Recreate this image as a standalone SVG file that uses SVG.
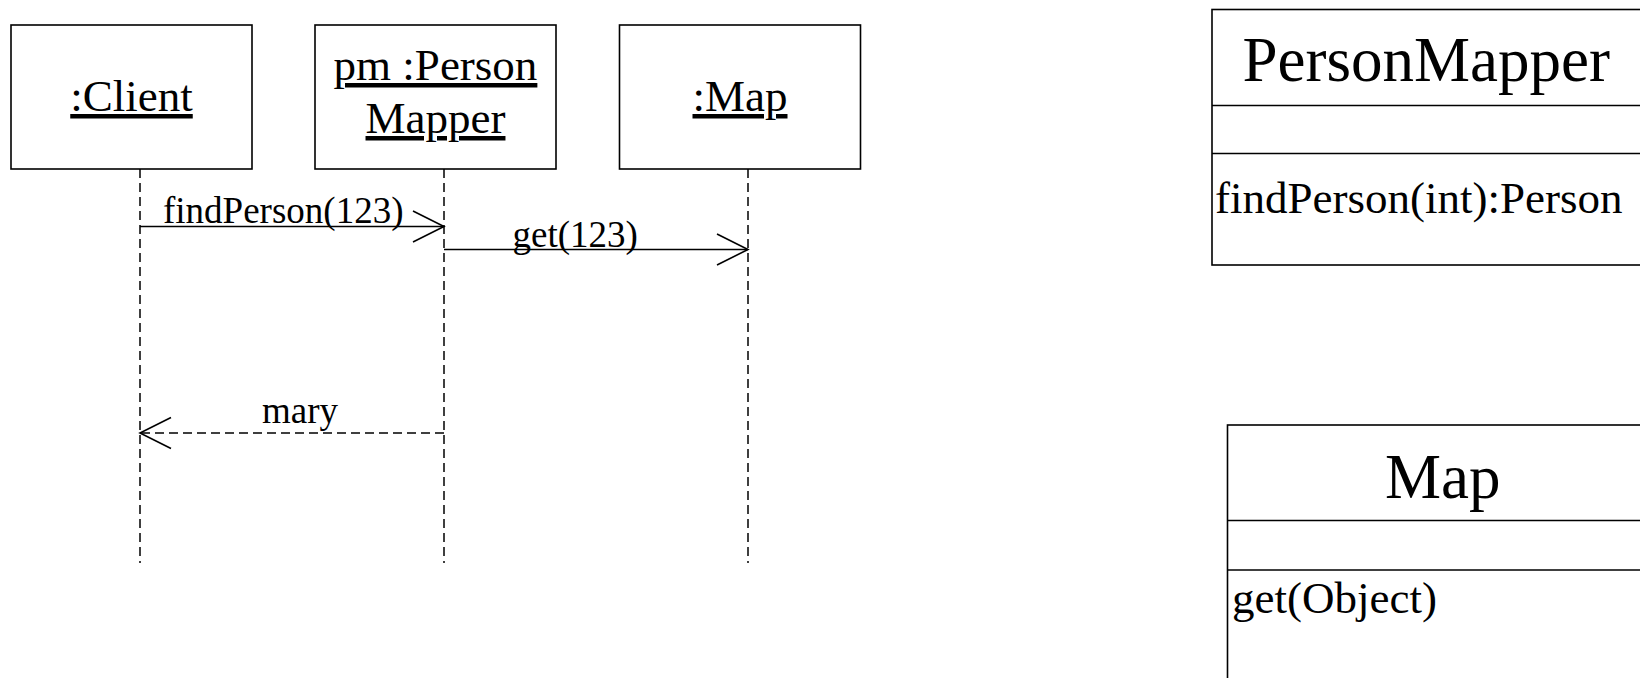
<svg xmlns="http://www.w3.org/2000/svg" width="1640" height="678" viewBox="0 0 1640 678">
  <style>
    text { font-family: "Liberation Serif", "Times New Roman", serif; fill: #000; }
    .box { fill: #fff; stroke: #000; stroke-width: 1.6; }
    .obj { font-size: 45px; text-anchor: middle; text-decoration: underline; }
    .msg { font-size: 37px; }
    .cls { font-size: 63px; }
    .op { font-size: 45px; }
    .life { stroke: #000; stroke-width: 1.5; stroke-dasharray: 9 5; fill: none; }
    .call { stroke: #000; stroke-width: 1.5; fill: none; }
    .ret { stroke: #000; stroke-width: 1.5; stroke-dasharray: 9 5; fill: none; }
    .head { stroke: #000; stroke-width: 1.6; fill: none; }
    .div { stroke: #000; stroke-width: 1.6; }
  </style>

  <g id="connectors">
    <line class="life" x1="140" y1="169" x2="140" y2="563"/>
    <line class="life" x1="444" y1="169" x2="444" y2="563"/>
    <line class="life" x1="748" y1="169" x2="748" y2="563"/>

    <g id="msg-findPerson">
      <line class="call" x1="140" y1="226.5" x2="444" y2="226.5"/>
      <polyline class="head" points="413,211 444,226.5 413,242"/>
      <text class="msg" x="163" y="223">findPerson(123)</text>
    </g>
    <g id="msg-get">
      <line class="call" x1="444" y1="249.5" x2="748" y2="249.5"/>
      <polyline class="head" points="717,234 748,249.5 717,265"/>
      <text class="msg" x="512.5" y="246.5">get(123)</text>
    </g>
    <g id="msg-mary">
      <line class="ret" x1="444" y1="433" x2="140" y2="433"/>
      <polyline class="head" points="171,417.5 140,433 171,448.5"/>
      <text class="msg" x="262" y="423" font-size="36">mary</text>
    </g>
  </g>

  <g id="client">
    <rect class="box" x="11" y="25" width="241" height="144"/>
    <text class="obj" x="131.5" y="111">:Client</text>
  </g>

  <g id="pm">
    <rect class="box" x="315" y="25" width="241" height="144"/>
    <text class="obj" x="435.5" y="80">pm :Person</text>
    <text class="obj" x="435.5" y="133">Mapper</text>
  </g>

  <g id="map">
    <rect class="box" x="619.5" y="25" width="241" height="144"/>
    <text class="obj" x="740" y="111">:Map</text>
  </g>

  <g id="class-PersonMapper">
    <rect class="box" x="1212" y="9.5" width="450" height="255.5"/>
    <line class="div" x1="1212" y1="105.5" x2="1662" y2="105.5"/>
    <line class="div" x1="1212" y1="153.5" x2="1662" y2="153.5"/>
    <text class="cls" x="1242.5" y="81">PersonMapper</text>
    <text class="op" x="1215" y="213">findPerson(int):Person</text>
  </g>

  <g id="class-Map">
    <rect class="box" x="1227.5" y="425" width="450" height="280"/>
    <line class="div" x1="1227.5" y1="520.5" x2="1677" y2="520.5"/>
    <line class="div" x1="1227.5" y1="570" x2="1677" y2="570"/>
    <text class="cls" x="1385" y="498">Map</text>
    <text class="op" x="1232" y="613" font-size="44.5">get(Object)</text>
  </g>
</svg>
